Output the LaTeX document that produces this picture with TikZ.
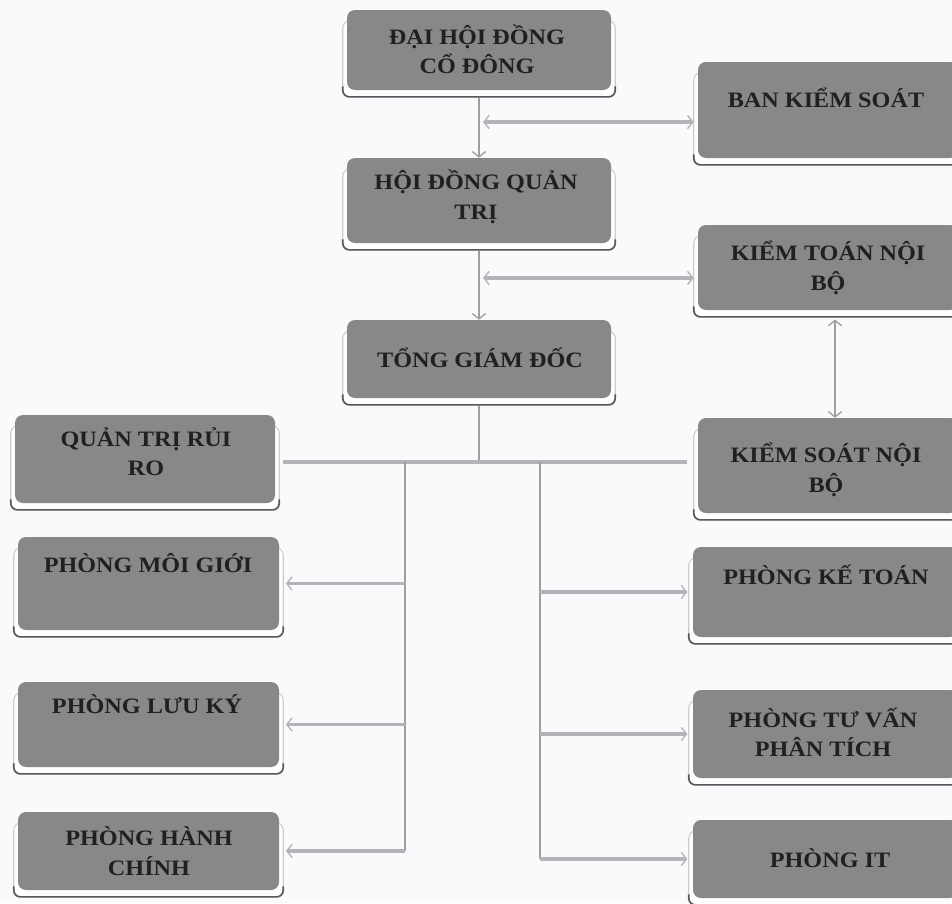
\documentclass[tikz,border=0pt]{standalone}
\usepackage{fontspec}
\setmainfont{Liberation Serif}[FakeStretch=1.1]
\usetikzlibrary{arrows.meta,fit,backgrounds}
\definecolor{bg}{RGB}{248,250,252}
\definecolor{boxgray}{RGB}{136,136,138}
\definecolor{ink}{RGB}{32,32,34}
\definecolor{connc}{RGB}{180,180,184}
\definecolor{framec}{RGB}{88,88,92}
\newcommand\plated[1]{%
  \begin{scope}[on background layer]
    \draw[plate] ([xshift=-3pt,yshift=-8pt]#1.north west) rectangle ([xshift=3pt,yshift=-5pt]#1.south east);
    \draw[platebase] ([xshift=-3pt,yshift=3pt]#1.south west) -- ([xshift=-3pt,yshift=-5pt]#1.south west) -- ([xshift=3pt,yshift=-5pt]#1.south east) -- ([xshift=3pt,yshift=3pt]#1.south east);
  \end{scope}}
\begin{document}
\begin{tikzpicture}[x=0.75pt,y=-0.75pt,
  box/.style={draw=none, fill=boxgray, rounded corners=6pt, inner sep=0pt},
  lbl/.style={text=ink, font=\bfseries\fontsize{16.5}{22}\selectfont, align=center, inner sep=0pt},
  plate/.style={draw=gray!40, fill=white, line width=0.8pt, rounded corners=6pt},
  platebase/.style={draw=framec, line width=1.2pt, rounded corners=5pt},
  conn/.style={draw=connc, line width=2.3pt},
  thinconn/.style={draw=gray!75, line width=0.8pt},
  tipe/.style={arrows={-Straight Barb[length=4pt,width=10pt,line width=1pt]}},
  tipb/.style={arrows={Straight Barb[length=4pt,width=10pt,line width=1pt]-Straight Barb[length=4pt,width=10pt,line width=1pt]}}
 ]
\begin{scope}[on background layer]
  \fill[bg] (0,0) rectangle (952,903);
\end{scope}
\useasboundingbox (0,0) rectangle (952,903);

% boxes
\node[box, fit={(347,10) (611,90)}] (dhd) {};
\node[box, fit={(698,62) (958,158)}] (bks) {};
\node[box, fit={(347,158) (611,243)}] (hdqt) {};
\node[box, fit={(698,225) (958,310)}] (ktnb) {};
\node[box, fit={(347,320) (611,398)}] (tgd) {};
\node[box, fit={(15,415) (275,503)}] (qtrr) {};
\node[box, fit={(698,418) (958,513)}] (ksnb) {};
\node[box, fit={(18,537) (279,630)}] (mg) {};
\node[box, fit={(693,547) (958,637)}] (kt) {};
\node[box, fit={(18,682) (279,767)}] (lk) {};
\node[box, fit={(693,690) (958,778)}] (tv) {};
\node[box, fit={(18,812) (279,890)}] (hc) {};
\node[box, fit={(693,820) (958,898)}] (it) {};
\plated{dhd}\plated{bks}\plated{hdqt}\plated{ktnb}\plated{tgd}\plated{qtrr}\plated{ksnb}
\plated{mg}\plated{kt}\plated{lk}\plated{tv}\plated{hc}\plated{it}

% labels
\node[lbl] (tdhd) at (477,49) {ĐẠI HỘI ĐỒNG\\CỔ ĐÔNG};
\node[lbl] (tbks) at (826,98) {BAN KIỂM SOÁT};
\node[lbl] (thdqt) at (476,197) {HỘI ĐỒNG QUẢN\\TRỊ};
\node[lbl] (tktnb) at (828,268) {KIỂM TOÁN NỘI\\BỘ};
\node[lbl] (ttgd) at (480,358) {TỔNG GIÁM ĐỐC};
\node[lbl] (tqtrr) at (146,452) {QUẢN TRỊ RỦI\\RO};
\node[lbl] (tksnb) at (826,470) {KIỂM SOÁT NỘI\\BỘ};
\node[lbl] (tmg) at (148,563) {PHÒNG MÔI GIỚI};
\node[lbl] (tkt) at (826,575) {PHÒNG KẾ TOÁN};
\node[lbl] (tlk) at (147,704) {PHÒNG LƯU KÝ};
\node[lbl] (ttv) at (823,732) {PHÒNG TƯ VẤN\\PHÂN TÍCH};
\node[lbl] (thc) at (149,851) {PHÒNG HÀNH\\CHÍNH};
\node[lbl] (tit) at (830,858) {PHÒNG IT};

% junction coordinates
\coordinate (j1) at (483,122);
\coordinate (j2) at (483,278);
\coordinate (k) at (835,0);
\coordinate (bus) at (479,462);
\coordinate (lv) at (405,462);
\coordinate (rv) at (540,462);

% top connectors
\draw[thinconn, tipe, shorten <=6pt] (dhd.south) -- (hdqt.north);
\draw[conn, tipb, shorten <=3pt] (bks.west |- j1) -- (j1);
\draw[thinconn, tipe, shorten <=6pt] (hdqt.south) -- (tgd.north);
\draw[conn, tipb, shorten <=3pt] (ktnb.west |- j2) -- (j2);
\draw[thinconn, tipb, shorten <=7pt] (ktnb.south -| k) -- (ksnb.north -| k);

% bus
\draw[thinconn, shorten <=6pt] (tgd.south) -- (tgd.south |- bus);
\draw[conn, shorten <=6pt, shorten >=8pt] (qtrr.east |- bus) -- (ksnb.west |- bus);
\draw[thinconn] (lv) -- (lv |- hc.east);
\draw[thinconn] (rv) -- (rv |- it.west);

% branches
\draw[conn, tipe, shorten >=5pt] (lv |- mg.east) -- (mg.east);
\draw[conn, tipe, shorten >=5pt] (lv |- lk.east) -- (lk.east);
\draw[conn, tipe, shorten >=5pt] (lv |- hc.east) -- (hc.east);
\draw[conn, tipe, shorten >=4pt] (rv |- kt.west) -- (kt.west);
\draw[conn, tipe, shorten >=4pt] (rv |- tv.west) -- (tv.west);
\draw[conn, tipe, shorten >=4pt] (rv |- it.west) -- (it.west);
\end{tikzpicture}
\end{document}
